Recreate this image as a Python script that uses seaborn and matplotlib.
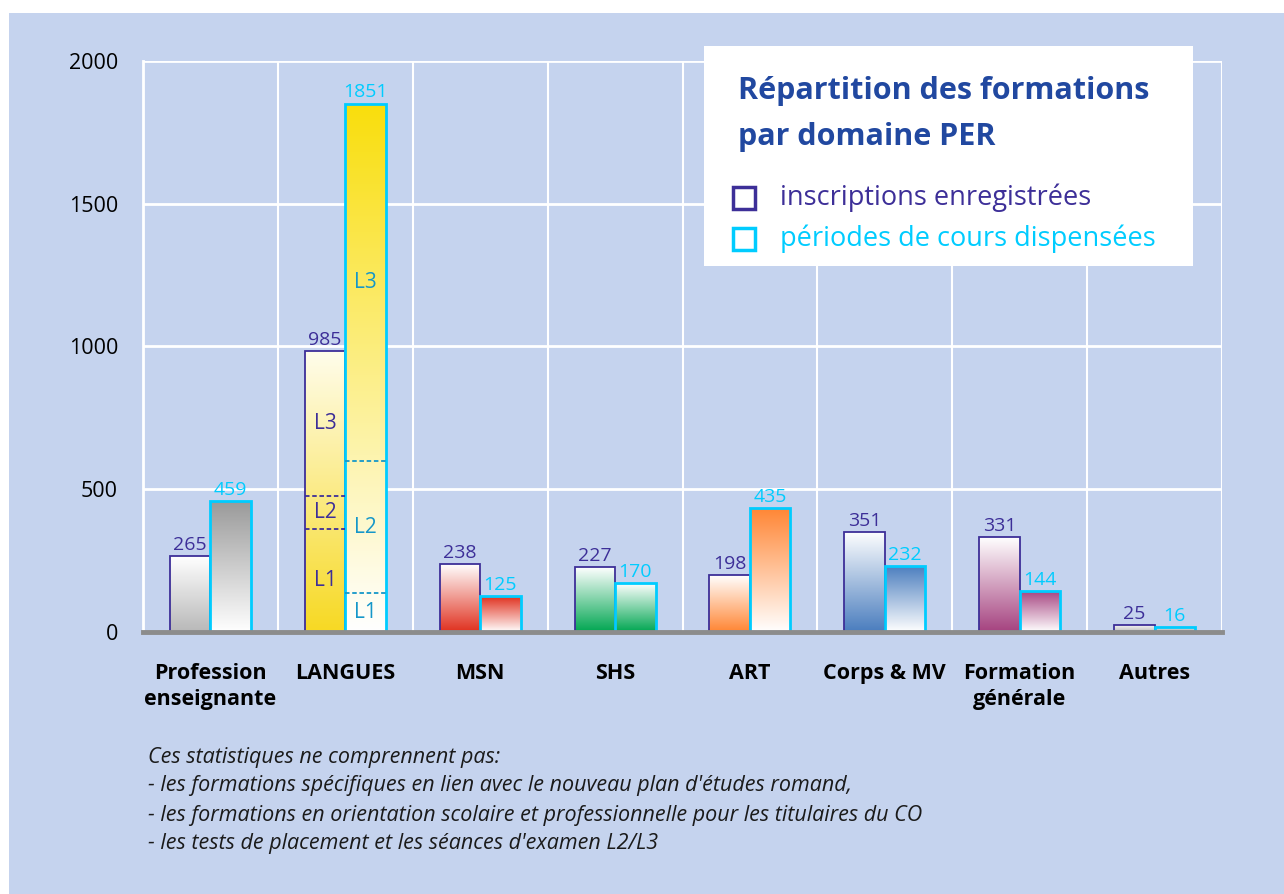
import numpy as np
import pandas as pd
import seaborn as sns
import matplotlib.pyplot as plt
from matplotlib.colors import to_rgb
from matplotlib.patches import Rectangle

# données
categories = ['Profession\nenseignante', 'LANGUES', 'MSN', 'SHS', 'ART',
              'Corps & MV', 'Formation\ngénérale', 'Autres']
inscriptions = [265, 985, 238, 227, 198, 351, 331, 25]
periodes = [459, 1851, 125, 170, 435, 232, 144, 16]
series = ['inscriptions enregistrées', 'périodes de cours dispensées']

# découpage des LANGUES en niveaux
niveaux = ['L1', 'L2', 'L3']
langues_inscriptions = [360, 116, 509]
langues_periodes = [135, 465, 1251]

titre = ['Répartition des formations', 'par domaine PER']
notes = ["Ces statistiques ne comprennent pas:",
         "- les formations spécifiques en lien avec le nouveau plan d'études romand,",
         "- les formations en orientation scolaire et professionnelle pour les titulaires du CO",
         "- les tests de placement et les séances d'examen L2/L3"]

# couleurs des dégradés (haut, bas) par domaine et par série
degrades_insc = [('#FFFFFF', '#B8B8B8'), ('#FFFDEC', '#F7D923'), ('#FFFFFF', '#E0301E'),
                 ('#FFFFFF', '#00A651'), ('#FFFFFF', '#FF8533'), ('#FFFFFF', '#4A7DBE'),
                 ('#FFFFFF', '#A5427F'), ('#FFFFFF', '#B8B8B8')]
degrades_per = [('#999999', '#FFFFFF'), ('#F9DE0C', '#FFFFFF'), ('#E0301E', '#FFFFFF'),
                ('#FFFFFF', '#00A651'), ('#FF8533', '#FFFFFF'), ('#4A7DBE', '#FFFFFF'),
                ('#A5427F', '#FFFFFF'), ('#E0E0E0', '#B0B0B0')]

bg = '#C5D3EE'
violet = '#3D2F98'
cyan = '#00CCFF'
cyan_fonce = '#1597C9'
bleu_titre = '#2148A0'

sns.set_style('white')
plt.rcParams['font.family'] = ['Open Sans', 'DejaVu Sans']

df = pd.DataFrame({'domaine': categories * 2,
                   'valeur': inscriptions + periodes,
                   'serie': [series[0]] * len(categories) + [series[1]] * len(categories)})

fig = plt.figure(figsize=(12.84, 8.94), dpi=100, facecolor='white')
fig.patches.append(Rectangle((9 / 1284, 0), 1, 1 - 13 / 894, transform=fig.transFigure,
                             facecolor=bg, edgecolor='none', zorder=-10))

ax = fig.add_axes([143 / 1284, 1 - 632 / 894, (1222 - 143) / 1284, (632 - 61) / 894])
ax.set_facecolor(bg)

sns.barplot(data=df, x='domaine', y='valeur', hue='serie', width=0.6,
            palette=[violet, cyan], saturation=1, errorbar=None, legend=False, ax=ax)


def degrade(haut, bas, n=256):
    t = np.linspace(0, 1, n)[:, None, None]
    return np.array(to_rgb(haut))[None, None, :] * (1 - t) + np.array(to_rgb(bas))[None, None, :] * t


for serie_i, (cont, degs, couleur, lw) in enumerate(
        zip(ax.containers, [degrades_insc, degrades_per], [violet, cyan], [1.3, 2])):
    for j, bar in enumerate(cont):
        x0, w, h = bar.get_x(), bar.get_width(), bar.get_height()
        bar.set_facecolor('none')
        bar.set_edgecolor(couleur)
        bar.set_linewidth(lw)
        bar.set_zorder(4)
        im = ax.imshow(degrade(*degs[j]), extent=[x0, x0 + w, 0, h], aspect='auto',
                       interpolation='bilinear', zorder=3)
        im.set_clip_path(bar)
        ax.annotate(str(int(round(h))), (x0 + w / 2, h), xytext=(0, 1.5),
                    textcoords='offset points', ha='center', va='bottom',
                    fontsize=14, color=violet if serie_i == 0 else cyan, zorder=6)

# niveaux L1/L2/L3 dans les barres LANGUES
for cont, segs, couleur in zip(ax.containers, [langues_inscriptions, langues_periodes],
                               [violet, cyan_fonce]):
    bar = cont[1]
    x0, w = bar.get_x(), bar.get_width()
    bas = 0
    for k, (niv, v) in enumerate(zip(niveaux, segs)):
        if k > 0:
            ax.plot([x0, x0 + w], [bas, bas], ls=(0, (2.5, 1.5)), lw=1.3, color=couleur, zorder=5)
        ax.text(x0 + w / 2, bas + v / 2, niv, ha='center', va='center', fontsize=15,
                color=couleur, zorder=6)
        bas += v

ax.set_xlim(-0.5, len(categories) - 0.5)
ax.set_ylim(0, 2000)
ax.set_aspect('auto')
ax.set_xlabel('')
ax.set_ylabel('')

ax.set_yticks([0, 500, 1000, 1500, 2000])
ax.tick_params(axis='y', length=7, width=2, color='white', pad=11, labelsize=15.5,
               labelcolor='black')
ax.set_xticks(range(len(categories)))
ax.set_xticklabels(categories, fontsize=15.5, fontweight='bold', color='black')
ax.tick_params(axis='x', which='major', length=0, pad=22)
for lab in ax.get_xticklabels():
    lab.set_linespacing(1.32)
ax.set_xticks(np.arange(-0.5, len(categories), 1), minor=True)
ax.tick_params(axis='x', which='minor', length=7, width=3, color='#8C8C8C')

ax.set_axisbelow(True)
ax.grid(axis='y', which='major', color='white', lw=2)
ax.grid(axis='x', which='minor', color='white', lw=1.5)
ax.grid(axis='x', which='major', visible=False)

for s in ['top', 'right']:
    ax.spines[s].set_visible(False)
ax.spines['left'].set_color('white')
ax.spines['left'].set_linewidth(2)
ax.spines['bottom'].set_color('#8C8C8C')
ax.spines['bottom'].set_linewidth(3.5)
ax.spines['bottom'].set_zorder(7)

# encadré du titre et de la légende
ax.add_patch(Rectangle((704 / 1284, 1 - 266 / 894), 489 / 1284, 220 / 894,
                       transform=fig.transFigure, facecolor='white', edgecolor='none',
                       clip_on=False, zorder=10))
fig.text(738 / 1284, 1 - 91 / 894, titre[0], fontsize=22, fontweight='bold',
         color=bleu_titre, va='center', ha='left')
fig.text(738 / 1284, 1 - 137 / 894, titre[1], fontsize=22, fontweight='bold',
         color=bleu_titre, va='center', ha='left')
for (yc, nom, couleur) in zip([198, 239], series, [violet, cyan]):
    fig.patches.append(Rectangle((733 / 1284, 1 - (yc + 11) / 894), 22 / 1284, 22 / 894,
                                 transform=fig.transFigure, facecolor='none',
                                 edgecolor=couleur, lw=2.5, zorder=20))
    fig.text(780 / 1284, 1 - yc / 894, nom, fontsize=19.5, color=couleur, va='center', ha='left')

for k, ligne in enumerate(notes):
    fig.text(148 / 1284, 1 - (757 + 29 * k) / 894, ligne, fontsize=15.5, style='italic',
             color='#1A1A1A', va='center', ha='left')

fig.savefig('out.png', dpi=100, facecolor='white')
